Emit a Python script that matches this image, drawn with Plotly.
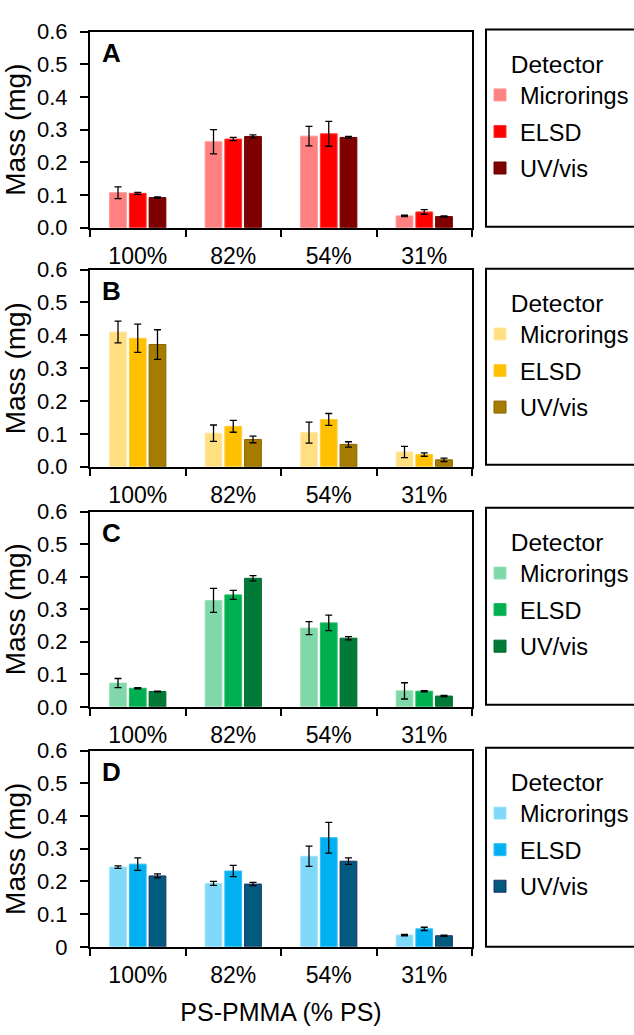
import plotly.graph_objects as go

W, H = 634, 1035

categories = ["100%", "82%", "54%", "31%"]
detectors = ["Microrings", "ELSD", "UV/vis"]
panel_letters = ["A", "B", "C", "D"]

# Panel A
a_microrings = [0.107, 0.263, 0.280, 0.036]
a_microrings_err = [0.018, 0.037, 0.030, 0.002]
a_elsd = [0.105, 0.271, 0.287, 0.048]
a_elsd_err = [0.003, 0.005, 0.038, 0.007]
a_uvvis = [0.092, 0.279, 0.276, 0.034]
a_uvvis_err = [0.002, 0.005, 0.003, 0.002]

# Panel B
b_microrings = [0.410, 0.102, 0.104, 0.045]
b_microrings_err = [0.033, 0.025, 0.032, 0.017]
b_elsd = [0.391, 0.123, 0.144, 0.037]
b_elsd_err = [0.043, 0.018, 0.018, 0.005]
b_uvvis = [0.372, 0.083, 0.068, 0.021]
b_uvvis_err = [0.045, 0.010, 0.008, 0.005]

# Panel C
c_microrings = [0.073, 0.327, 0.242, 0.049]
c_microrings_err = [0.014, 0.037, 0.020, 0.025]
c_elsd = [0.057, 0.344, 0.258, 0.048]
c_elsd_err = [0.002, 0.014, 0.024, 0.002]
c_uvvis = [0.047, 0.395, 0.211, 0.033]
c_uvvis_err = [0.001, 0.008, 0.005, 0.002]

# Panel D
d_microrings = [0.244, 0.194, 0.277, 0.036]
d_microrings_err = [0.004, 0.006, 0.031, 0.002]
d_elsd = [0.253, 0.232, 0.334, 0.055]
d_elsd_err = [0.019, 0.017, 0.047, 0.005]
d_uvvis = [0.217, 0.192, 0.262, 0.034]
d_uvvis_err = [0.006, 0.005, 0.010, 0.002]

panel_values = [
    [a_microrings, a_elsd, a_uvvis],
    [b_microrings, b_elsd, b_uvvis],
    [c_microrings, c_elsd, c_uvvis],
    [d_microrings, d_elsd, d_uvvis],
]
panel_errors = [
    [a_microrings_err, a_elsd_err, a_uvvis_err],
    [b_microrings_err, b_elsd_err, b_uvvis_err],
    [c_microrings_err, c_elsd_err, c_uvvis_err],
    [d_microrings_err, d_elsd_err, d_uvvis_err],
]

panel_colors = [
    ["#FF8080", "#FF0000", "#800000"],
    ["#FFDF80", "#FFC000", "#A67C00"],
    ["#80D8A8", "#00B050", "#007A36"],
    ["#80D8F8", "#00B0F0", "#005B7F"],
]
panel_edges = [
    ["#FF9999", "#FF3333", "#6E0000"],
    ["#FFE8A6", "#FFCC40", "#8C6400"],
    ["#99E0B8", "#20BB60", "#006A2E"],
    ["#A0E2FA", "#30BEF2", "#1F2F66"],
]

yticks = [0.0, 0.1, 0.2, 0.3, 0.4, 0.5, 0.6]
ytick_text_std = ["0.0", "0.1", "0.2", "0.3", "0.4", "0.5", "0.6"]
ytick_text_last = ["0", "0.1", "0.2", "0.3", "0.4", "0.5", "0.6"]

FONT = "Liberation Sans, Arial, sans-serif"

# pixel layout (top, bottom) of each plot area
plot_px = [(20, 221), (264, 466), (512, 712), (757, 958)]
box_px = [(18, 220), (263, 464), (508, 710), (754, 958)]
x_left, x_right = 90, 472

fig = go.Figure()
legend_names = ["legend", "legend2", "legend3", "legend4"]

for p in range(4):
    xa = "x" if p == 0 else f"x{p+1}"
    ya = "y" if p == 0 else f"y{p+1}"
    for s in range(3):
        fig.add_trace(go.Bar(
            x=categories,
            y=panel_values[p][s],
            name=detectors[s],
            marker=dict(color=panel_colors[p][s],
                        line=dict(color=panel_edges[p][s], width=1)),
            error_y=dict(type="data", array=panel_errors[p][s], visible=True,
                         color="black", thickness=1.3, width=3.5),
            xaxis=xa, yaxis=ya,
            legend=legend_names[p],
            legendgroup=f"{panel_letters[p]}{s}",
        ))

layout = dict(
    width=W, height=H,
    margin=dict(l=0, r=0, t=0, b=0),
    paper_bgcolor="white", plot_bgcolor="white",
    barmode="group", bargap=0.38, bargroupgap=0.15,
    font=dict(family=FONT, color="black", size=22),
    showlegend=True,
)

shapes = []
annotations = []
for p in range(4):
    top, bot = plot_px[p]
    xkey = "xaxis" if p == 0 else f"xaxis{p+1}"
    ykey = "yaxis" if p == 0 else f"yaxis{p+1}"
    yanchor_name = "y" if p == 0 else f"y{p+1}"
    xanchor_name = "x" if p == 0 else f"x{p+1}"
    layout[xkey] = dict(
        domain=[x_left / W, x_right / W],
        anchor=yanchor_name,
        type="category",
        tickson="boundaries",
        ticks="outside", ticklen=7, tickwidth=2, tickcolor="black",
        showline=True, linecolor="black", linewidth=2, mirror=True,
        showgrid=False, zeroline=False,
        tickfont=dict(size=23, family=FONT),
        ticklabelstandoff=7,
        fixedrange=True,
    )
    layout[ykey] = dict(
        domain=[1 - bot / H, 1 - top / H],
        anchor=xanchor_name,
        range=[0, 0.6],
        tickvals=yticks,
        ticktext=ytick_text_last if p == 3 else ytick_text_std,
        ticks="outside", ticklen=8, tickwidth=2, tickcolor="black",
        showline=True, linecolor="black", linewidth=2, mirror=True,
        showgrid=False, zeroline=False,
        tickfont=dict(size=22, family=FONT),
        ticklabelstandoff=8,
        title=dict(text="Mass (mg)", font=dict(size=28, family=FONT), standoff=4),
        fixedrange=True,
    )
    if p == 3:
        layout[xkey]["title"] = dict(text="PS-PMMA (% PS)",
                                     font=dict(size=25, family=FONT), standoff=16)
    btop, bbot = box_px[p]
    shapes.append(dict(type="rect", xref="paper", yref="paper",
                       x0=486 / W, x1=1.05, y0=1 - bbot / H, y1=1 - btop / H,
                       line=dict(color="black", width=2), fillcolor="rgba(0,0,0,0)"))
    annotations.append(dict(text=f"<b>{panel_letters[p]}</b>", xref="paper", yref="paper",
                            x=100 / W, y=1 - (top + 22) / H, xanchor="left", yanchor="middle",
                            showarrow=False, font=dict(size=26, family=FONT)))
    layout[legend_names[p]] = dict(
        x=480 / W, y=1 - (btop + 12) / H, xanchor="left", yanchor="top",
        bgcolor="rgba(0,0,0,0)", borderwidth=0,
        title=dict(text="Detector", side="top center", font=dict(size=24.5, family=FONT)),
        font=dict(size=23.5, family=FONT),
        tracegroupgap=3,
        itemclick=False, itemdoubleclick=False,
    )

layout["shapes"] = shapes
layout["annotations"] = annotations
fig.update_layout(**layout)

fig.write_html("out.html",
               config={"displayModeBar": False, "staticPlot": True},
               post_script="document.body.style.margin='0px';document.body.style.overflow='hidden';")
